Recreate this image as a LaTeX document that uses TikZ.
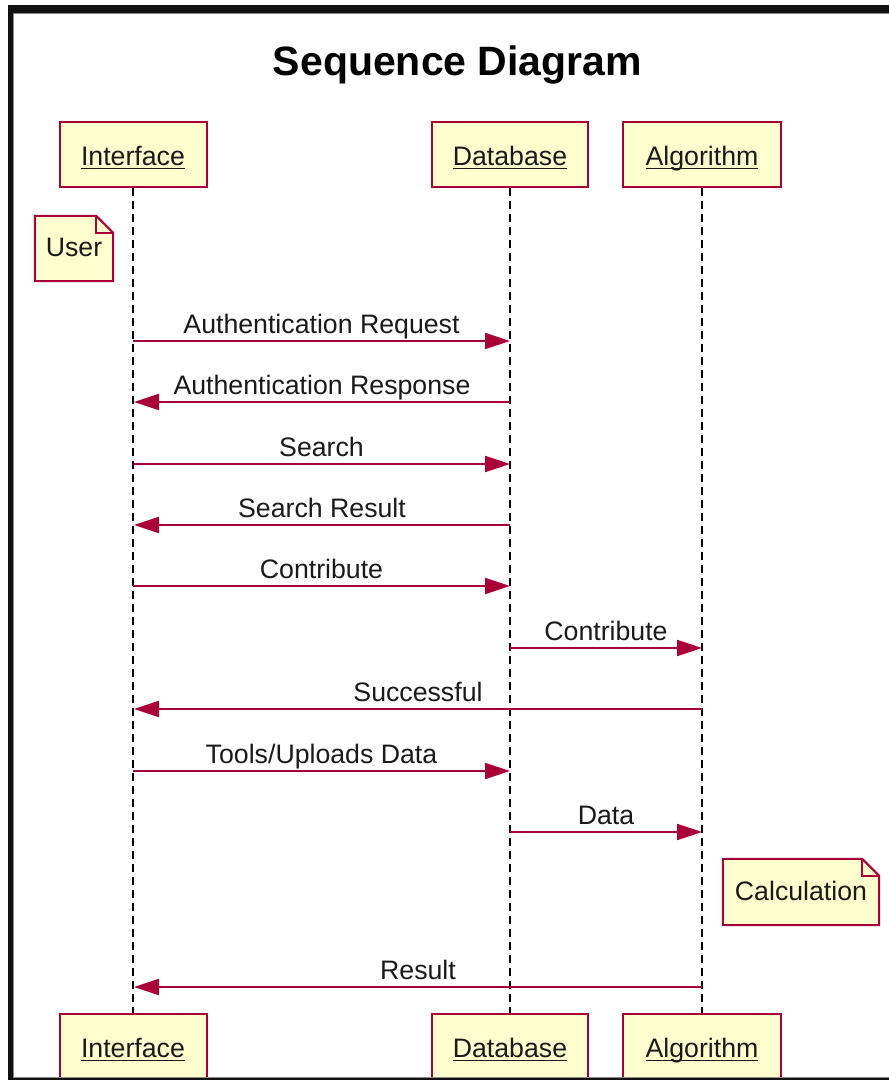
\documentclass[tikz,border=0pt]{standalone}
\usepackage{fontspec}
\setmainfont{Liberation Sans}
\usetikzlibrary{arrows.meta,backgrounds}
\definecolor{umlred}{HTML}{A80036}
\definecolor{umlfill}{HTML}{FEFECE}
\definecolor{framedark}{HTML}{111111}
\definecolor{frameedge}{HTML}{8A8A8A}
\definecolor{inktext}{HTML}{1A1A1A}
\newsavebox\ulbox
% underline at a fixed distance below the baseline, whatever the descenders
\newcommand\ulin[1]{\sbox\ulbox{#1}\rlap{\rule[-4pt]{\wd\ulbox}{1.5pt}}\usebox\ulbox}
\begin{document}
\begin{tikzpicture}[x=1pt,y=-1pt,
  txt/.style={font=\fontsize{26.7}{32}\selectfont, text=inktext},
  participant/.style={txt, draw=umlred, fill=umlfill, line width=2pt,
    minimum width=#1, minimum height=65pt, inner sep=0pt,
    text height=21pt, text depth=0pt},
  lifeline/.style={draw=black, line width=2pt, dash pattern=on 8pt off 5pt},
  msg/.style={draw=umlred, line width=2pt,
    -{Triangle[length=25pt,width=16pt]}},
  msglabel/.style={txt, midway, anchor=base, yshift=7.5pt, inner sep=0pt},
  notebox/.style={txt, inner sep=0pt, text depth=0pt},
  notedraw/.style={draw=umlred, fill=umlfill, line width=2pt, line join=miter}
]
\useasboundingbox (0,0) rectangle (889,1080);
\begin{scope}[on background layer]
  \fill[white] (0,0) rectangle (889,1080);
\end{scope}

% title
\node[font=\fontsize{41}{48}\selectfont\bfseries, anchor=base, inner sep=0pt]
  (title) at (457.5,75) {Sequence Diagram};

% participants, top and bottom
\node[participant=147pt] (iTop) at (133,154.5) {\ulin{Interface}};
\node[participant=156pt] (dTop) at (510,154.5) {\ulin{Database}};
\node[participant=158pt] (aTop) at (702,154.5) {\ulin{Algorithm}};
\node[participant=147pt] (iBot) at (133,1046.5) {\ulin{Interface}};
\node[participant=156pt] (dBot) at (510,1046.5) {\ulin{Database}};
\node[participant=158pt] (aBot) at (702,1046.5) {\ulin{Algorithm}};

% lifelines
\draw[lifeline] (iTop.south) -- (iBot.north);
\draw[lifeline] (dTop.south) -- (dBot.north);
\draw[lifeline] (aTop.south) -- (aBot.north);

% notes
\node[notebox, minimum width=78pt, minimum height=65pt, text height=15pt]
  (user) at (74,248.5) {User};
\node[notebox, minimum width=156pt, minimum height=66pt, text height=16pt]
  (calc) at (801,892) {Calculation};
\begin{scope}[on background layer]
  \foreach \n in {user,calc}{
    \draw[notedraw] (\n.south west) -- (\n.north west)
      -- ([xshift=-17pt]\n.north east) -- ([yshift=-17pt]\n.north east)
      -- (\n.south east) -- cycle;
    \draw[notedraw, fill=none] ([xshift=-17pt]\n.north east)
      -- ([xshift=-17pt,yshift=-17pt]\n.north east)
      -- ([yshift=-17pt]\n.north east);
  }
\end{scope}

% message end points on the lifelines
\coordinate (i1) at (133,341);   \coordinate (d1) at (510,341);
\coordinate (d2) at (510,402);   \coordinate (i2) at (134,402);
\coordinate (i3) at (133,464);   \coordinate (d3) at (510,464);
\coordinate (d4) at (510,525);   \coordinate (i4) at (134,525);
\coordinate (i5) at (133,586);   \coordinate (d5) at (510,586);
\coordinate (d6) at (510,648);   \coordinate (a6) at (702,648);
\coordinate (a7) at (702,709);   \coordinate (i7) at (134,709);
\coordinate (i8) at (133,771);   \coordinate (d8) at (510,771);
\coordinate (d9) at (510,832);   \coordinate (a9) at (702,832);
\coordinate (a10) at (702,987);  \coordinate (i10) at (134,987);

% messages
\draw[msg] (i1) -- (d1) node[msglabel] {Authentication Request};
\draw[msg] (d2) -- (i2) node[msglabel] {Authentication Response};
\draw[msg] (i3) -- (d3) node[msglabel] {Search};
\draw[msg] (d4) -- (i4) node[msglabel] {Search Result};
\draw[msg] (i5) -- (d5) node[msglabel] {Contribute};
\draw[msg] (d6) -- (a6) node[msglabel] {Contribute};
\draw[msg] (a7) -- (i7) node[msglabel] {Successful};
\draw[msg] (i8) -- (d8) node[msglabel] {Tools/Uploads Data};
\draw[msg] (d9) -- (a9) node[msglabel] {Data};
\draw[msg] (a10) -- (i10) node[msglabel] {Result};

% dark frame along the top, left and bottom edges
\fill[framedark] (8,5) rectangle (889,13);
\fill[framedark] (8,5) rectangle (13,1080);
\fill[framedark] (8,1078) rectangle (889,1080);
\draw[frameedge, line width=1pt] (889,13.5) -- (13.5,13.5) -- (13.5,1077.5) -- (889,1077.5);
\end{tikzpicture}
\end{document}
